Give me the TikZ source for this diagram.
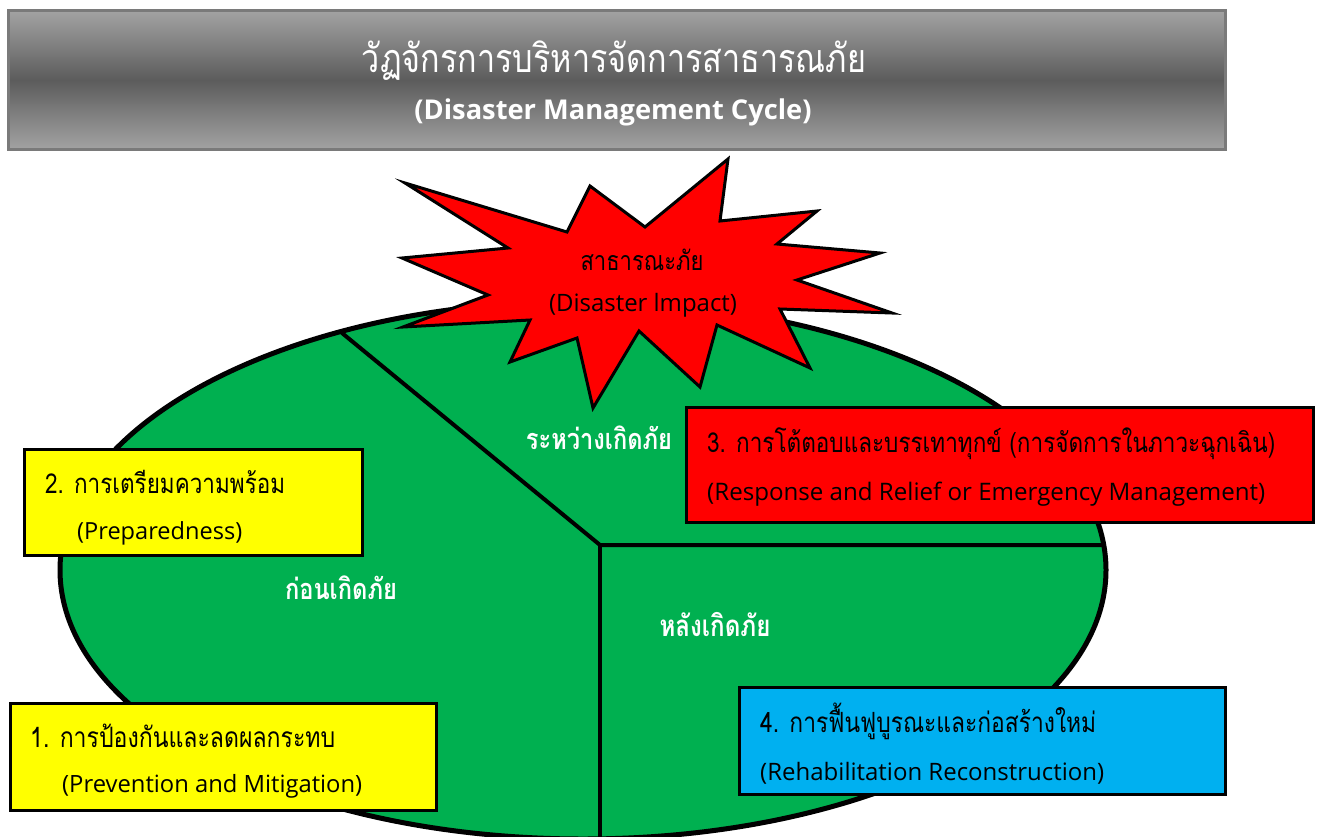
\documentclass[tikz,border=0pt]{standalone}
\usepackage{fontspec}
\setmainfont{Open Sans}
\newfontfamily\thai[Script=Thai]{Loma}
\usetikzlibrary{shapes.geometric}
\definecolor{cgreen}{HTML}{00B050}
\definecolor{cred}{HTML}{FF0000}
\definecolor{cyel}{HTML}{FFFF00}
\definecolor{cblue}{HTML}{00B0F0}
\definecolor{tlight}{HTML}{A3A3A3}
\definecolor{tdark}{HTML}{5C5C5C}
\definecolor{tborder}{HTML}{7A7A7A}
\newcommand{\fitto}[2]{\resizebox{#1pt}{!}{#2}}
\newcommand{\thfit}[2]{\resizebox{#1pt}{!}{\scalebox{1}[1.22]{\thai #2}}}
\tikzset{
  boxstyle/.style={draw=black, line width=3pt, rectangle, inner sep=0pt},
  txt/.style={inner sep=0pt, anchor=base west, text=black},
  ctxt/.style={inner sep=0pt, anchor=base, text=black},
  lbl/.style={inner sep=0pt, anchor=base, text=white},
  divline/.style={draw=black, line width=4pt}
}
\begin{document}
\begin{tikzpicture}[x=1pt,y=-1pt]
\useasboundingbox (0,0) rectangle (1320,836);
\clip (0,0) rectangle (1320,836);
% title
\node[draw=tborder, line width=3pt, top color=tlight, bottom color=tlight, middle color=tdark,
      minimum width=1217pt, minimum height=139pt, inner sep=0pt] (title) at (617,80) {};
\node[lbl] (titleth) at (614,72) {\thfit{504}{วัฏจักรการบริหารจัดการสาธารณภัย}};
\node[lbl] (titleen) at (613,119) {\fitto{397}{\bfseries (Disaster Management Cycle)}};
% cycle ellipse
\node[ellipse, draw=black, fill=cgreen, line width=5pt, minimum width=1046pt, minimum height=538pt, inner sep=0pt] (cyc) at (583,570) {};
\coordinate (d0) at (342,333);
\coordinate (dc) at (600,545);
\coordinate (dr) at (1104,545);
\coordinate (db) at (600,845);
\draw[divline] (d0) -- (dc) -- (dr);
\draw[divline] (dc) -- (db);
% star
\draw[fill=cred, line width=3pt, line join=miter]
 (405,183) -- (567,232) -- (590,186) -- (645,227) -- (728,159) -- (720,221)
 -- (817,211) -- (777,244) -- (880,253) -- (797,280) -- (892,313) -- (780,309)
 -- (810,368) -- (717,325) -- (700,387) -- (639,331) -- (593,408) -- (577,338)
 -- (510,362) -- (530,320) -- (403,327) -- (488,295) -- (402,258) -- (508,248) -- cycle;
\node[ctxt] (impth) at (642,270) {\thfit{123}{สาธารณะภัย}};
\node[ctxt] (impen) at (643,311) {\fitto{188}{(Disaster lmpact)}};
% phase labels
\node[lbl] (during) at (599,449) {\thfit{146}{\bfseries ระหว่างเกิดภัย}};
\node[lbl] (before) at (341,599) {\thfit{112}{\bfseries ก่อนเกิดภัย}};
\node[lbl] (after) at (715,636) {\thfit{111}{\bfseries หลังเกิดภัย}};
% boxes
\node[boxstyle, fill=cyel, minimum width=338pt, minimum height=106pt] (b2) at (193.5,502.5) {};
\node[txt] (b2a) at (45,493) {\thfit{240}{2. การเตรียมความพร้อม}};
\node[txt] (b2b) at (77,539) {\fitto{165}{(Preparedness)}};
\node[boxstyle, fill=cred, minimum width=627pt, minimum height=115pt] (b3) at (1000,465) {};
\node[txt] (b3a) at (707,452) {\thfit{568}{3. การโต้ตอบและบรรเทาทุกข์ (การจัดการในภาวะฉุกเฉิน)}};
\node[txt] (b3b) at (707,500) {\fitto{558}{(Response and Relief or Emergency Management)}};
\node[boxstyle, fill=cyel, minimum width=426pt, minimum height=107pt] (b1) at (223.5,757) {};
\node[txt] (b1a) at (30,747) {\thfit{305}{1. การป้องกันและลดผลกระทบ}};
\node[txt] (b1b) at (62,792) {\fitto{300}{(Prevention and Mitigation)}};
\node[boxstyle, fill=cblue, minimum width=486pt, minimum height=107pt] (b4) at (982.5,741) {};
\node[txt] (b4a) at (760,732) {\thfit{336}{4. การฟื้นฟูบูรณะและก่อสร้างใหม่}};
\node[txt] (b4b) at (760,780) {\fitto{344}{(Rehabilitation Reconstruction)}};
\end{tikzpicture}
\end{document}
